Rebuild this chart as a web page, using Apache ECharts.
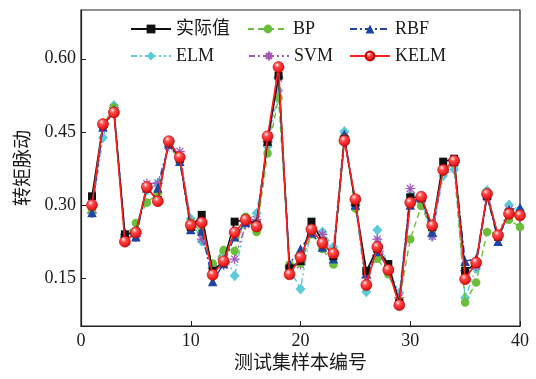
<!DOCTYPE html>
<html>
<head>
<meta charset="utf-8">
<script src="https://cdn.jsdelivr.net/npm/echarts@6/dist/echarts.min.js"></script>
<style>
html, body { margin: 0; padding: 0; background: #fff; }
#chart { width: 536px; height: 379px; }
</style>
</head>
<body>
<div id="chart"></div>
<script>
// Test-set sample numbers 1..40
const sampleNo = [1,2,3,4,5,6,7,8,9,10,11,12,13,14,15,16,17,18,19,20,
                  21,22,23,24,25,26,27,28,29,30,31,32,33,34,35,36,37,38,39,40];

// Torque ripple: measured values and model predictions
const actual = [0.318,0.465,0.490,0.240,0.245,0.335,0.310,0.430,0.395,0.255,
                0.280,0.165,0.185,0.266,0.270,0.260,0.430,0.565,0.170,0.185,
                0.266,0.225,0.195,0.435,0.305,0.165,0.210,0.179,0.100,0.316,
                0.315,0.255,0.389,0.395,0.165,0.180,0.320,0.235,0.285,0.280];
const bp     = [0.290,0.465,0.500,0.235,0.263,0.305,0.324,0.425,0.390,0.265,
                0.245,0.180,0.208,0.206,0.276,0.245,0.406,0.520,0.178,0.180,
                0.240,0.210,0.178,0.440,0.293,0.165,0.190,0.158,0.105,0.230,
                0.298,0.250,0.370,0.385,0.100,0.141,0.245,0.240,0.270,0.255];
const rbf    = [0.285,0.460,0.495,0.243,0.235,0.335,0.335,0.425,0.390,0.250,
                0.247,0.143,0.180,0.235,0.265,0.265,0.431,0.571,0.180,0.210,
                0.243,0.214,0.190,0.445,0.300,0.160,0.205,0.170,0.100,0.300,
                0.315,0.245,0.380,0.390,0.185,0.190,0.320,0.226,0.290,0.295];
const elm    = [0.284,0.438,0.504,0.235,0.235,0.330,0.344,0.425,0.400,0.272,
                0.226,0.175,0.205,0.155,0.265,0.283,0.420,0.535,0.170,0.128,
                0.255,0.245,0.214,0.451,0.300,0.122,0.249,0.170,0.120,0.320,
                0.310,0.236,0.360,0.373,0.110,0.170,0.330,0.235,0.300,0.290];
const svm    = [0.284,0.460,0.500,0.240,0.235,0.344,0.345,0.420,0.410,0.265,
                0.230,0.170,0.177,0.189,0.260,0.270,0.430,0.560,0.175,0.178,
                0.255,0.240,0.195,0.440,0.300,0.150,0.230,0.170,0.110,0.334,
                0.310,0.236,0.370,0.385,0.165,0.175,0.315,0.235,0.290,0.280];
const kelm   = [0.300,0.466,0.490,0.225,0.244,0.337,0.308,0.431,0.398,0.259,
                0.264,0.157,0.185,0.244,0.270,0.256,0.441,0.583,0.158,0.193,
                0.250,0.222,0.201,0.432,0.312,0.136,0.214,0.167,0.095,0.305,
                0.317,0.258,0.372,0.391,0.148,0.182,0.323,0.238,0.282,0.279];

const yTicks = [0.15, 0.30, 0.45, 0.60];
const xTicks = [0, 10, 20, 30, 40];

const FONT = '"Liberation Serif", "Noto Sans CJK SC", serif';
const INK = '#1a1a1a';

function pairs(vals) { return sampleNo.map((n, i) => [n, vals[i]]); }

const sphere = {
  type: 'radial', x: 0.38, y: 0.32, r: 0.75,
  colorStops: [
    { offset: 0, color: '#ffecec' },
    { offset: 0.3, color: '#ff4a4a' },
    { offset: 1, color: '#d80000' }
  ]
};

const starPath = 'path://M5 0 L5 10 M0 5 L10 5 M1.5 1.5 L8.5 8.5 M8.5 1.5 L1.5 8.5';

const seriesDefs = [
  { name: '实际值', data: actual, color: '#111', symbol: 'rect', size: 8,
    line: { width: 1.5, type: 'solid' }, z: 6 },
  { name: 'BP', data: bp, color: '#6abf3a', symbol: 'circle', size: 8.5,
    line: { width: 1.4, type: [6, 4] }, z: 4 },
  { name: 'RBF', data: rbf, color: '#1f45a3', symbol: 'triangle', size: 9.5,
    line: { width: 1.4, type: [7, 3, 2, 3] }, z: 5 },
  { name: 'ELM', data: elm, color: '#5ccbd8', symbol: 'diamond', size: [10, 11],
    line: { width: 1.4, type: [6, 3, 2, 3, 2, 3] }, z: 2 },
  { name: 'SVM', data: svm, color: '#a656b8', symbol: starPath, size: 10,
    line: { width: 1.3, type: [6, 3, 2, 3, 2, 3] }, z: 3, stroke: true },
  { name: 'KELM', data: kelm, color: '#ff1f1f', symbol: 'circle', size: 11,
    line: { width: 1.6, type: 'solid' }, z: 7, sphere: true }
];

const series = seriesDefs.map(d => ({
  name: d.name,
  type: 'line',
  data: pairs(d.data),
  symbol: d.symbol,
  symbolSize: d.size,
  z: d.z,
  lineStyle: { color: d.color, width: d.line.width, type: d.line.type },
  itemStyle: d.stroke
    ? { color: 'rgba(0,0,0,0)', borderColor: d.color, borderWidth: 1.2 }
    : d.sphere
      ? { color: sphere, borderColor: '#c00000', borderWidth: 0.6 }
      : { color: d.color, borderWidth: 0 },
  emphasis: { disabled: true },
  animation: false
}));

// One legend per entry so the two rows line up in columns
const legendPos = [
  { left: 130, top: 20 }, { left: 247, top: 20 }, { left: 349, top: 20 },
  { left: 130, top: 47 }, { left: 248, top: 47 }, { left: 349, top: 47 }
];
const legends = seriesDefs.map((d, i) => ({
  data: [d.name],
  left: legendPos[i].left,
  top: legendPos[i].top,
  padding: 0,
  itemWidth: 40,
  itemHeight: 11,
  selectedMode: false,
  textStyle: { fontFamily: FONT, fontSize: 18, color: INK }
}));

const chart = echarts.init(document.getElementById('chart'), null, { renderer: 'canvas' });
chart.setOption({
  backgroundColor: '#fff',
  animation: false,
  legend: legends,
  grid: {
    left: 81, right: 16, top: 10, bottom: 52,
    show: true, borderColor: '#222', borderWidth: 1.2, backgroundColor: 'transparent'
  },
  xAxis: {
    type: 'value',
    min: 0, max: 40, interval: 10,
    name: '测试集样本编号',
    nameLocation: 'middle',
    nameGap: 29,
    nameTextStyle: { fontFamily: FONT, fontSize: 19, color: INK },
    axisLine: { show: true, lineStyle: { color: '#222', width: 1.2 } },
    axisTick: { inside: true, length: 5, lineStyle: { color: '#222' } },
    axisLabel: {
      fontFamily: FONT, fontSize: 18, color: INK, margin: 6,
      customValues: xTicks
    },
    splitLine: { show: false }
  },
  yAxis: {
    type: 'value',
    min: 0.052, max: 0.70,
    name: '转矩脉动',
    nameLocation: 'middle',
    nameGap: 46,
    nameTextStyle: { fontFamily: FONT, fontSize: 19, color: INK },
    axisLine: { show: true, lineStyle: { color: '#222', width: 1.2 } },
    axisTick: { inside: true, length: 5, lineStyle: { color: '#222' }, customValues: yTicks },
    axisLabel: {
      fontFamily: FONT, fontSize: 18, color: INK, margin: 5,
      customValues: yTicks,
      formatter: v => v.toFixed(2)
    },
    splitLine: { show: false }
  },
  series: series
});
</script>
</body>
</html>
